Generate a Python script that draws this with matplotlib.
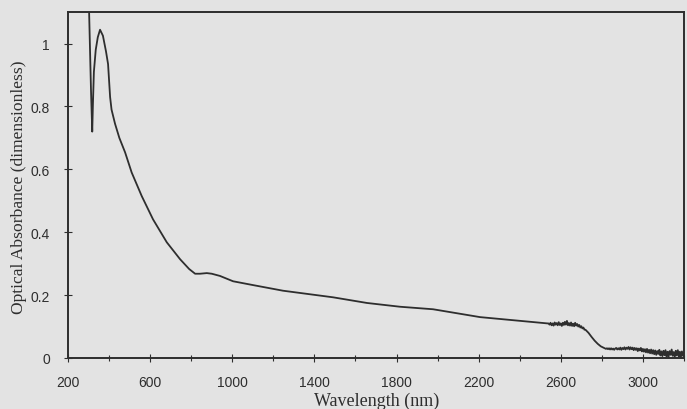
import matplotlib
matplotlib.use("Agg")
import matplotlib.pyplot as plt
from matplotlib.ticker import MultipleLocator, FuncFormatter

# Data
# UV / visible part (smooth)
vis_wl = [200, 250, 295, 302, 312, 318, 321, 326, 335, 345, 356, 370, 385, 395,
          400, 405, 412, 429, 450, 478, 510, 559, 614, 681, 746, 790, 819, 843,
          876, 900, 940, 1004, 1100, 1247, 1491, 1656, 1817, 1978, 2207, 2450, 2535]
vis_abs = [3.0, 3.0, 3.0, 1.12, 0.85, 0.72, 0.80, 0.91, 0.98, 1.02, 1.044, 1.025, 0.975, 0.935,
           0.885, 0.83, 0.79, 0.745, 0.700, 0.654, 0.590, 0.515, 0.441, 0.368, 0.314, 0.283, 0.268, 0.268,
           0.270, 0.268, 0.261, 0.244, 0.232, 0.214, 0.193, 0.175, 0.163, 0.155, 0.130, 0.115, 0.110]

# noisy plateau near 2600 nm (5 nm steps)
plateau_wl = list(range(2540, 2725, 5))
plateau_abs = [0.110, 0.106, 0.112, 0.104, 0.110, 0.103, 0.113, 0.106, 0.111, 0.104,
               0.114, 0.105, 0.110, 0.102, 0.112, 0.105, 0.115, 0.106, 0.118, 0.104,
               0.111, 0.103, 0.113, 0.102, 0.109, 0.101, 0.112, 0.103, 0.108, 0.100,
               0.105, 0.097, 0.101, 0.094, 0.097, 0.090, 0.090]

# edge drop
edge_wl = [2735, 2750, 2765, 2780, 2795, 2810, 2820]
edge_abs = [0.080, 0.067, 0.055, 0.045, 0.037, 0.032, 0.029]

# noisy tail (5 nm steps)
tail_wl = list(range(2825, 3205, 5))
tail_abs = [0.031, 0.028, 0.031, 0.027, 0.031, 0.027, 0.030, 0.026, 0.030, 0.032,
            0.027, 0.031, 0.027, 0.033, 0.026, 0.032, 0.028, 0.034, 0.027, 0.033,
            0.029, 0.035, 0.027, 0.034, 0.028, 0.033, 0.025, 0.032, 0.026, 0.031,
            0.022, 0.030, 0.024, 0.032, 0.021, 0.029, 0.020, 0.028, 0.018, 0.029,
            0.017, 0.026, 0.015, 0.027, 0.014, 0.025, 0.012, 0.024, 0.010, 0.022,
            0.013, 0.026, 0.008, 0.021, 0.006, 0.023, 0.009, 0.025, 0.005, 0.020,
            0.004, 0.022, 0.010, 0.027, 0.007, 0.019, 0.003, 0.023, 0.008, 0.025,
            0.005, 0.020, 0.003, 0.021, 0.007, 0.016]

x_ticks = [200, 600, 1000, 1400, 1800, 2200, 2600, 3000]
y_ticks = [0, 0.2, 0.4, 0.6, 0.8, 1]

n = min(len(tail_wl), len(tail_abs))
wavelength_nm = vis_wl + plateau_wl + edge_wl + tail_wl[:n]
absorbance = vis_abs + plateau_abs + edge_abs + tail_abs[:n]

bg = "#e3e3e3"
ink = "#2e2e2e"

fig = plt.figure(figsize=(6.87, 4.10), dpi=100, facecolor=bg)
ax = fig.add_axes([0.099, 0.1244, 0.8966, 0.8436], facecolor=bg)

ax.plot(wavelength_nm, absorbance, color=ink, lw=1.3, solid_joinstyle="round")

ax.set_xlim(200, 3200)
ax.set_ylim(0, 1.1)
ax.set_xticks(x_ticks)
ax.xaxis.set_minor_locator(MultipleLocator(200))
ax.set_yticks(y_ticks)
ax.yaxis.set_major_formatter(FuncFormatter(lambda v, p: f"{v:g}"))

for s in ax.spines.values():
    s.set_color(ink)
    s.set_linewidth(1.4)

ax.tick_params(axis="both", which="both", direction="inout", color=ink,
               labelcolor=ink, labelsize=10, width=0.8)
ax.tick_params(axis="both", which="major", length=6)
ax.tick_params(axis="both", which="minor", length=5)
ax.tick_params(axis="x", pad=9)
ax.tick_params(axis="y", pad=10)
for lab in ax.get_xticklabels() + ax.get_yticklabels():
    lab.set_fontfamily("Liberation Sans")

fig.text(0.548, 0.022, "Wavelength (nm)", family="Liberation Serif", fontsize=13,
         color=ink, ha="center", va="center")
fig.text(0.028, 0.544, "Optical Absorbance (dimensionless)", rotation=90,
         family="Liberation Serif", fontsize=12.6, color=ink,
         ha="center", va="center")

fig.savefig("out.png", dpi=100, facecolor=bg)
